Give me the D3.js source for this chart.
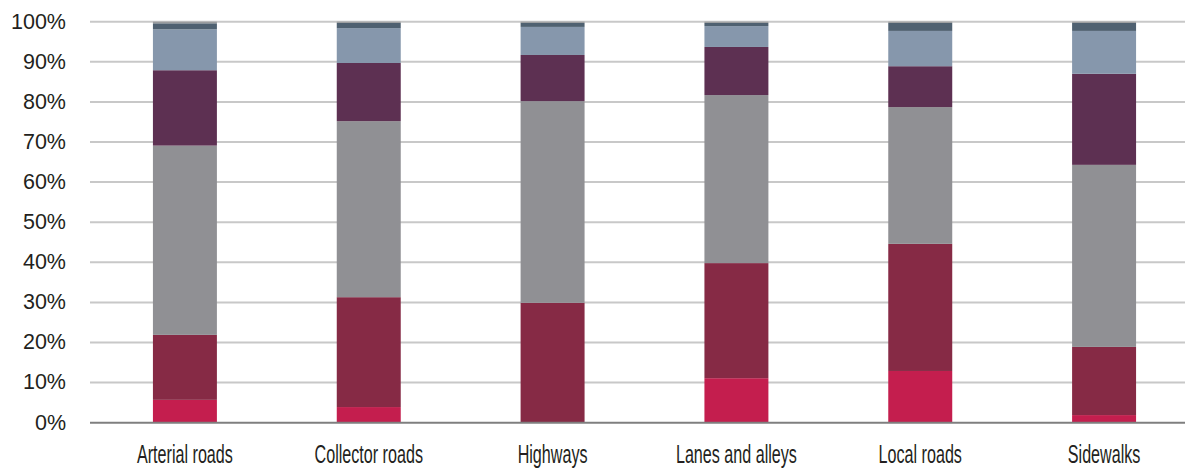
<!DOCTYPE html>
<html><head><meta charset="utf-8">
<script src="https://cdn.jsdelivr.net/npm/d3@7"></script>
<style>body{margin:0;background:#fff}svg{display:block}</style>
</head><body>
<svg id="c" width="1185" height="468"></svg>
<script>
const categories = ["Arterial roads","Collector roads","Highways","Lanes and alleys","Local roads","Sidewalks"];
const seriesNames = ["s1","s2","s3","s4","s5","s6","s7"];
const s1 = [5.7, 3.9, 0, 11.1, 12.9, 1.9];
const s2 = [16.2, 27.4, 29.9, 28.7, 31.7, 17.0];
const s3 = [47.2, 43.9, 50.3, 41.9, 34.1, 45.4];
const s4 = [18.8, 14.5, 11.5, 12.0, 10.2, 22.7];
const s5 = [10.2, 8.7, 7.0, 5.2, 8.8, 10.7];
const s6 = [1.5, 1.3, 1.0, 0.8, 2.0, 2.0];
const s7 = [0.4, 0.3, 0.3, 0.3, 0.3, 0.3];
const colors = ["#C41E4E","#862A45","#909094","#5D3052","#8697AC","#4F6171","#9a9c9e"];
const yTicks = [0,10,20,30,40,50,60,70,80,90,100];

const series = [s1,s2,s3,s4,s5,s6,s7];
const rows = categories.map((c,i)=>{const r={cat:c}; seriesNames.forEach((n,j)=>r[n]=series[j][i]); return r;});
const stack = d3.stack().keys(seriesNames)(rows);

const svg = d3.select("#c");
const x = d3.scaleBand().domain(categories).range([93,1196]).paddingInner(0.652).paddingOuter(0.326);
const y = d3.scaleLinear().domain([0,100]).range([422.7,21.7]);

// gridlines
svg.append("g").selectAll("line").data(yTicks.filter(t=>t>0)).join("line")
  .attr("x1",90).attr("x2",1185).attr("y1",d=>y(d)).attr("y2",d=>y(d))
  .attr("stroke","#c8c8c8").attr("stroke-width",2);

// y labels
svg.append("g").selectAll("text").data(yTicks).join("text")
  .attr("x",66).attr("y",d=>y(d)+6.8).attr("text-anchor","end")
  .attr("font-family","Liberation Sans, Arial, sans-serif").attr("font-size",21.5)
  .attr("fill","#231f20").text(d=>d+"%");

// bars
svg.append("g").selectAll("g").data(stack).join("g")
  .attr("fill",(d,i)=>colors[i])
  .selectAll("rect").data(d=>d).join("rect")
  .attr("x",d=>x(d.data.cat)).attr("width",x.bandwidth())
  .attr("y",d=>y(d[1])).attr("height",d=>Math.max(0,y(d[0])-y(d[1])));

// baseline
svg.append("line").attr("x1",90).attr("x2",1185).attr("y1",y(0)).attr("y2",y(0))
  .attr("stroke","#7f7f7f").attr("stroke-width",2);

// x labels
svg.append("g").selectAll("text").data(categories).join("text")
  .attr("transform",d=>`translate(${x(d)+x.bandwidth()/2},462.7) scale(0.62,1)`)
  .attr("text-anchor","middle")
  .attr("font-family","Liberation Sans, Arial, sans-serif").attr("font-size",26)
  .attr("fill","#231f20").text(d=>d);
</script>
</body></html>
